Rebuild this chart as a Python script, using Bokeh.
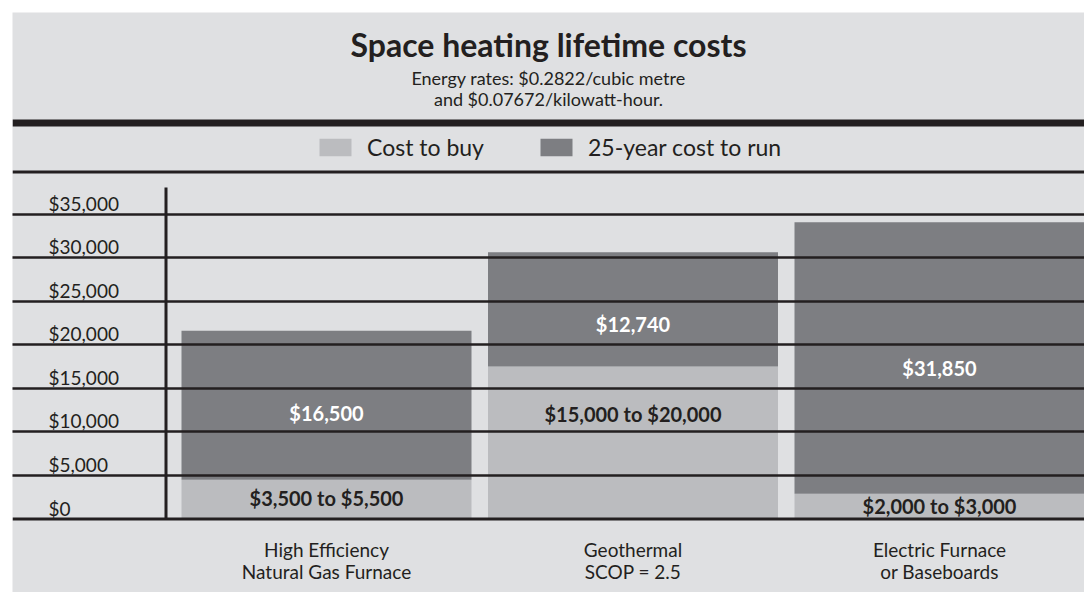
from bokeh.plotting import figure
from bokeh.models import Range1d, Span, Grid, FixedTicker, Legend, LegendItem, ColumnDataSource
from bokeh.core.properties import value
from bokeh.embed import file_html
from bokeh.resources import INLINE

# ---------------- data ----------------
cat_line1 = ["High Efficiency", "Geothermal", "Electric Furnace"]
cat_line2 = ["Natural Gas Furnace", "SCOP = 2.5", "or Baseboards"]
buy_cost = [4500, 17500, 2900]
run_cost = [17100, 13100, 31150]
buy_labels = ["$3,500 to $5,500", "$15,000 to $20,000", "$2,000 to $3,000"]
run_labels = ["$16,500", "$12,740", "$31,850"]
y_ticks = [0, 5000, 10000, 15000, 20000, 25000, 30000, 35000]
y_tick_labels = ["$0", "$5,000", "$10,000", "$15,000", "$20,000", "$25,000", "$30,000", "$35,000"]
series_names = ["Cost to buy", "25-year cost to run"]

title = "Space heating lifetime costs"
subtitle1 = "Energy rates: $0.2822/cubic metre"
subtitle2 = "and $0.07672/kilowatt-hour."

# ---------------- layout / style ----------------
BG = "#dfe0e2"
BUY = "#bbbcbf"
RUN = "#7d7e82"
INK = "#231f20"
FONT = value("Lato")

W, H = 1084, 592
BORDER = 12
FRAME_TOP_PY = BORDER      # page pixel of frame top
BASE_PY = 518.5            # page pixel of y = 0
UPP = 35000 / 305.0        # data units per pixel (y)
X0_PX = 326.0              # page pixel of first category
XPP = 306.5                # pixels per category

def py2y(py):
    return (BASE_PY - py) * UPP

def px2x(px):
    return (px - X0_PX) / XPP

frame_h = H - BORDER
frame_w = W - BORDER
y_end = py2y(FRAME_TOP_PY)
y_start = py2y(FRAME_TOP_PY + frame_h)
x_start = px2x(BORDER)
x_end = px2x(BORDER + frame_w)

p = figure(width=W, height=H, x_range=Range1d(x_start, x_end), y_range=Range1d(y_start, y_end),
           x_axis_location=None, y_axis_location=None, toolbar_location=None,
           output_backend="svg", min_border_left=BORDER, min_border_top=BORDER,
           min_border_right=0, min_border_bottom=0,
           background_fill_color=BG, border_fill_color="white", outline_line_color=None)
p.center = [r for r in p.center if not isinstance(r, Grid)]

xs = list(range(len(buy_cost)))
src = ColumnDataSource(dict(x=xs, buy=buy_cost, run=run_cost))
bar_w = 290 / XPP
rs = p.vbar_stack(["buy", "run"], x="x", width=bar_w, source=src,
                  color=[BUY, RUN], line_color=None)

# gridlines over bars
grid = Grid(dimension=1, ticker=FixedTicker(ticks=y_ticks[1:]), grid_line_color=INK,
            grid_line_width=2.5, level="annotation")
p.add_layout(grid)
p.add_layout(Span(location=0, dimension="width", line_color=INK, line_width=3))
# heavy rule below header, thin rule below legend
p.add_layout(Span(location=py2y(122.5), dimension="width", line_color=INK, line_width=7))
p.add_layout(Span(location=py2y(171.5), dimension="width", line_color=INK, line_width=3))
# vertical axis line
p.segment(x0=[px2x(165.5)], y0=[0], x1=[px2x(165.5)], y1=[py2y(187)], line_color=INK, line_width=3)

# y tick labels, sitting just above their gridlines
LABEL_LIFT = 11 * UPP
p.text(x=[px2x(48)] * len(y_ticks), y=[t + LABEL_LIFT for t in y_ticks], text=y_tick_labels,
       text_font=FONT, text_font_size="19px", text_color=INK, text_align="left",
       text_baseline="middle")

# bar labels
run_label_py = [412, 323.3, 367]
buy_label_py = [497, 413.3, 505]
p.text(x=xs, y=[py2y(v) for v in run_label_py], text=run_labels, text_font=FONT,
       text_font_size="20px", text_font_style="bold", text_color="white",
       text_align="center", text_baseline="middle")
p.text(x=xs, y=[py2y(v) for v in buy_label_py], text=buy_labels, text_font=FONT,
       text_font_size="20px", text_font_style="bold", text_color=INK,
       text_align="center", text_baseline="middle")

# category labels
p.text(x=xs, y=[py2y(548.5)] * 3, text=cat_line1, text_font=FONT, text_font_size="19px",
       text_color=INK, text_align="center", text_baseline="middle")
p.text(x=xs, y=[py2y(570.5)] * 3, text=cat_line2, text_font=FONT, text_font_size="19px",
       text_color=INK, text_align="center", text_baseline="middle")

# title and subtitle
cx = px2x(548)
p.text(x=[cx], y=[py2y(44)], text=[title], text_font=FONT, text_font_size="32px",
       text_font_style="bold", text_color=INK, text_align="center", text_baseline="middle")
p.text(x=[cx, cx], y=[py2y(77.5), py2y(98.5)], text=[subtitle1, subtitle2], text_font=FONT,
       text_font_size="18px", text_color=INK, text_align="center", text_baseline="middle")

# legend
legend = Legend(items=[LegendItem(label=series_names[0], renderers=[rs[0]]),
                       LegendItem(label=series_names[1], renderers=[rs[1]])],
                orientation="horizontal", location=(315 - BORDER, frame_h - (139 - BORDER) - 22),
                glyph_width=40, glyph_height=22, label_height=22, label_standoff=12,
                label_width=169, spacing=0, padding=0, margin=0,
                border_line_color=None, background_fill_alpha=0,
                label_text_font="Lato", label_text_font_size="23px", label_text_color=INK,
                label_text_baseline="middle")
p.add_layout(legend)

open("out.html", "w").write(file_html(p, INLINE))
